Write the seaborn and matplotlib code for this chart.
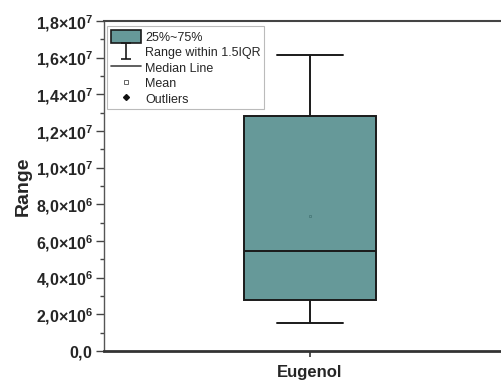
import numpy as np
import pandas as pd
import matplotlib
matplotlib.use("Agg")
import matplotlib.pyplot as plt
import seaborn as sns
from matplotlib.lines import Line2D
from matplotlib.patches import Patch
from matplotlib.path import Path
from matplotlib.ticker import FuncFormatter, MultipleLocator

# Box statistics per compound
categories = ["Eugenol"]
whisker_low = [1.54e6]
q1 = [2.78e6]
median = [5.44e6]
q3 = [1.28e7]
whisker_high = [1.615e7]
mean = [7.36e6]

y_ticks = [0, 2e6, 4e6, 6e6, 8e6, 1e7, 1.2e7, 1.4e7, 1.6e7, 1.8e7]
legend_labels = ["25%~75%", "Range within 1.5IQR", "Median Line", "Mean", "Outliers"]

box_color = "#669999"

sns.set_style("ticks")
plt.rcParams["font.family"] = ["Liberation Sans", "DejaVu Sans"]
plt.rcParams["mathtext.fontset"] = "custom"
plt.rcParams["mathtext.rm"] = "Liberation Sans"
plt.rcParams["mathtext.bf"] = "Liberation Sans:bold"

# five-number summary per category as long-form table
rows = []
for i, cat in enumerate(categories):
    for v in (whisker_low[i], q1[i], median[i], q3[i], whisker_high[i]):
        rows.append({"Compound": cat, "Range": v})
df = pd.DataFrame(rows)
means = pd.DataFrame({"Compound": categories, "Range": mean})

fig = plt.figure(figsize=(5.02, 3.83), dpi=100)
ax = fig.add_axes([104 / 502, 32 / 383, 412 / 502, 330 / 383])

sns.boxplot(
    data=df, x="Compound", y="Range", ax=ax, width=0.32, whis=1.5,
    color=box_color, saturation=1, linewidth=1.4, linecolor="#1a1a1a",
    fliersize=3,
    medianprops={"color": "#1a1a1a", "linewidth": 1.4},
    whiskerprops={"color": "#1a1a1a", "linewidth": 1.4},
    capprops={"color": "#1a1a1a", "linewidth": 1.4},
    boxprops={"edgecolor": "#1a1a1a"},
)
sns.scatterplot(
    data=means, x="Compound", y="Range", ax=ax, marker="s", s=4,
    facecolor="none", edgecolor="#4a7a7a", linewidth=0.6, zorder=5,
    legend=False,
)

ax.set_xlim(-0.5, 0.5)
ax.set_ylim(0, 1.8e7)
ax.set_yticks(y_ticks)
ax.yaxis.set_minor_locator(MultipleLocator(1e6))


def sci_comma(v, pos):
    if v == 0:
        return r"$\mathbf{0{,}0}$"
    e = int(np.floor(np.log10(abs(v)) + 1e-9))
    m = f"{v / 10 ** e:.1f}".replace(".", "{,}")
    return r"$\mathbf{" + m + r"×10^{" + str(e) + r"}}$"


ax.yaxis.set_major_formatter(FuncFormatter(sci_comma))
ax.tick_params(axis="y", which="major", length=6, width=1, color="#444444",
               labelsize=11.5, pad=2)
ax.tick_params(axis="y", which="minor", length=3, width=1, color="#444444")
ax.tick_params(axis="x", which="major", length=4, width=1.2, color="#333333",
               labelsize=12, pad=6)
for lab in ax.get_xticklabels():
    lab.set_fontweight("bold")

ax.set_xlabel("")
ax.set_ylabel("Range", fontsize=14, fontweight="bold", labelpad=3)

ax.spines["left"].set_color("#555555")
ax.spines["left"].set_linewidth(1.0)
ax.spines["bottom"].set_color("#333333")
ax.spines["bottom"].set_linewidth(2.0)
ax.spines["top"].set_visible(True)
ax.spines["top"].set_color("#444444")
ax.spines["top"].set_linewidth(1.5)
ax.spines["right"].set_visible(False)

# I-beam marker for the whisker legend entry
ibeam = Path(
    [(-0.6, 1), (0.6, 1), (0, 1), (0, -1), (-0.6, -1), (0.6, -1)],
    [Path.MOVETO, Path.LINETO, Path.MOVETO, Path.LINETO, Path.MOVETO, Path.LINETO],
)
handles = [
    Patch(facecolor=box_color, edgecolor="#1a1a1a", linewidth=1.2),
    Line2D([], [], linestyle="none", marker=ibeam, markersize=11,
           markeredgecolor="#1a1a1a", markeredgewidth=1.2),
    Line2D([], [], color="#444444", linewidth=1.2),
    Line2D([], [], linestyle="none", marker="s", markersize=3,
           markerfacecolor="white", markeredgecolor="#666666", markeredgewidth=0.7),
    Line2D([], [], linestyle="none", marker="D", markersize=3,
           markerfacecolor="#111111", markeredgecolor="#111111"),
]
leg = ax.legend(
    handles, legend_labels, loc="upper left", bbox_to_anchor=(0.007, 0.985),
    fontsize=9, frameon=True, fancybox=False, shadow=False, framealpha=1,
    edgecolor="#bbbbbb", handlelength=2.4, handleheight=1.3, handletextpad=0.35,
    labelspacing=0.12, borderpad=0.3, borderaxespad=0,
)
leg.get_frame().set_linewidth(0.8)

fig.savefig("out.png", dpi=100)
